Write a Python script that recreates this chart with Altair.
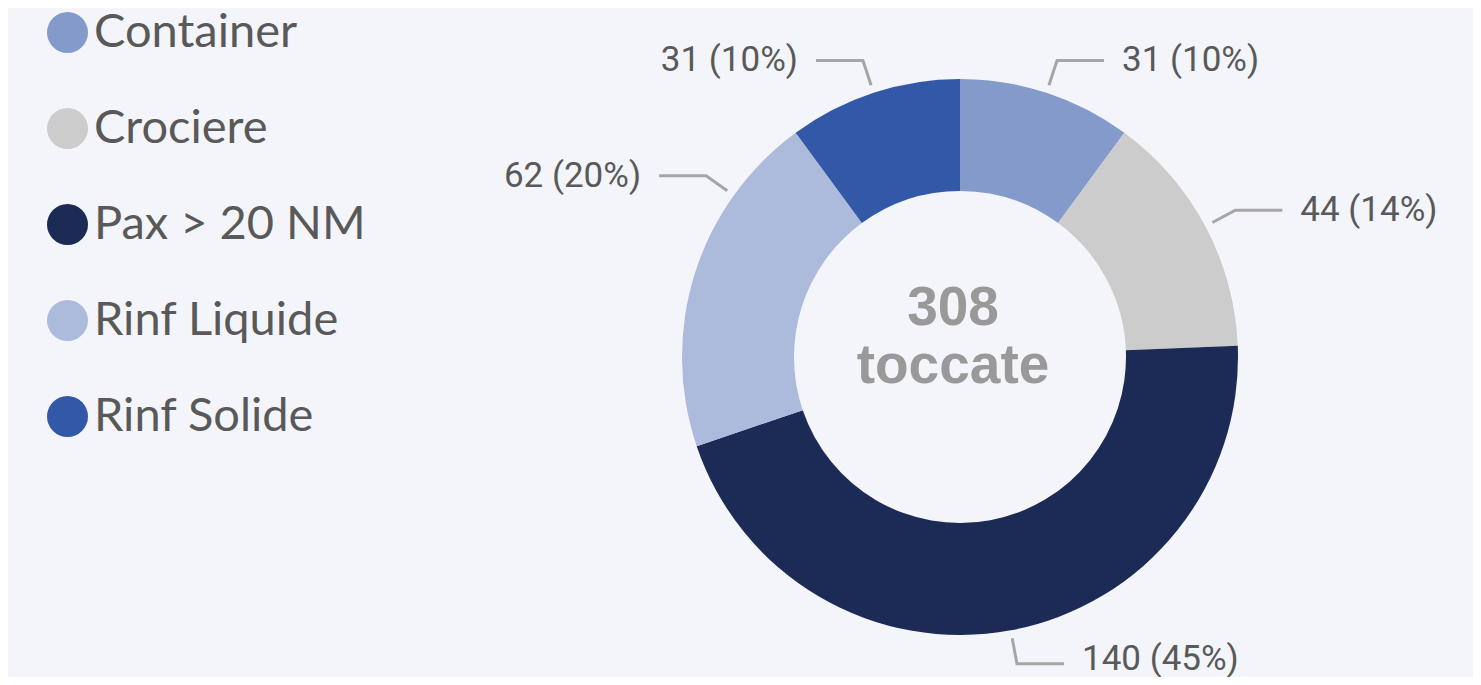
import math
import altair as alt
import pandas as pd

# ---- data ----
categories = ["Container", "Crociere", "Pax > 20 NM", "Rinf Liquide", "Rinf Solide"]
values = [31, 44, 140, 62, 31]
colors = ["#849acb", "#cccccc", "#1b2b55", "#acbbdc", "#3358a8"]
center_word = "toccate"

# ---- layout ----
W, H = 1465, 669
CX, CY = 952, 349          # donut centre in view pixels
R_OUT, R_IN = 278, 166
R_LINE0, R_LINE1 = 286, 312
HLEN, TGAP = 47, 18
CENTER_DX = -7
LABEL_FS = 35
ANGLE_NUDGE = {"Rinf Liquide": 18.0}   # label moved along its slice, as in the source

total = sum(values)
df = pd.DataFrame({"cat": categories, "value": values, "idx": list(range(len(values)))})

lines, lab_l, lab_r = [], [], []
cum = 0
for c, v in zip(categories, values):
    mid = (cum + v / 2) / total * 360 + ANGLE_NUDGE.get(c, 0.0)
    cum += v
    a = math.radians(mid)
    sx, sy = math.sin(a), math.cos(a)
    side = 1 if sx >= 0 else -1
    p0 = (R_LINE0 * sx, R_LINE0 * sy)
    p1 = (R_LINE1 * sx, R_LINE1 * sy)
    p2 = (p1[0] + side * HLEN, p1[1])
    for k, (x, y) in enumerate([p0, p1, p2]):
        lines.append({"cat": c, "k": k, "x": x, "y": y})
    pct = round(v / total * 100)
    ty = max(p1[1], -(H - CY) + LABEL_FS / 2 + 1)   # keep text inside the chart
    rec = {"cat": c, "x": p1[0] + side * (HLEN + TGAP), "y": ty, "text": f"{v} ({pct}%)"}
    (lab_l if side > 0 else lab_r).append(rec)

lines_df = pd.DataFrame(lines)
center_df = pd.DataFrame({"t": [str(total), center_word], "x": [CENTER_DX, CENTER_DX], "y": [32, -26]})

xs = alt.Scale(domain=[-CX, W - CX], nice=False, zero=False)
ys = alt.Scale(domain=[-(H - CY), CY], nice=False, zero=False)

arcs = alt.Chart(df).mark_arc(radius=R_OUT, radius2=R_IN, strokeWidth=0).encode(
    theta=alt.Theta("value:Q", stack=True),
    color=alt.Color(
        "cat:N",
        scale=alt.Scale(domain=categories, range=colors),
        legend=alt.Legend(
            title=None, orient="none", legendX=36, legendY=1,
            symbolType="circle", symbolSize=1681, symbolStrokeWidth=0, symbolOpacity=1,
            labelFont="Lato", labelFontSize=47, labelColor="#595959",
            labelOffset=3, labelLimit=600, rowPadding=48, padding=0,
        ),
    ),
    order=alt.Order("idx:Q"),
    x=alt.value(CX),
    y=alt.value(CY),
)

leaders = alt.Chart(lines_df).mark_line(color="#a6a6a6", strokeWidth=3).encode(
    x=alt.X("x:Q", scale=xs, axis=None),
    y=alt.Y("y:Q", scale=ys, axis=None),
    detail="cat:N",
    order="k:Q",
)

def label_layer(data, align):
    return alt.Chart(pd.DataFrame(data)).mark_text(
        align=align, baseline="middle", font="Roboto", fontSize=LABEL_FS, color="#595959"
    ).encode(
        x=alt.X("x:Q", scale=xs, axis=None),
        y=alt.Y("y:Q", scale=ys, axis=None),
        text="text:N",
    )

center = alt.Chart(center_df).mark_text(
    align="center", baseline="alphabetic", font="Liberation Sans", fontWeight="bold",
    fontSize=55, color="#999999"
).encode(
    x=alt.X("x:Q", scale=xs, axis=None),
    y=alt.Y("y:Q", scale=ys, axis=None),
    text="t:N",
)

chart = alt.layer(
    arcs, leaders, label_layer(lab_l, "left"), label_layer(lab_r, "right"), center
).properties(
    width=W, height=H, background="#f4f5fa", padding=0, autosize="none"
).configure_view(stroke=None)

chart.save("out.html", embed_options={"renderer": "svg", "actions": False})
